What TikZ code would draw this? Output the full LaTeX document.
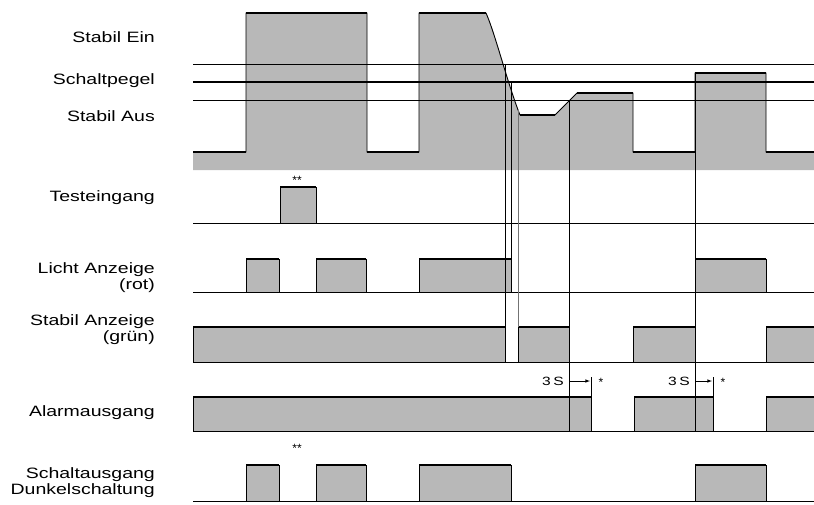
\documentclass[tikz,border=0pt]{standalone}
\usepackage{fontspec}
\setmainfont{Liberation Sans}
\usepackage{graphicx}
\newcommand{\wide}[1]{\scalebox{1.3}[1]{#1}}
\tikzset{
  lbl/.style={anchor=east, inner sep=0pt, align=right, font=\fontsize{15}{16}\selectfont},
  note/.style={inner sep=0pt, font=\fontsize{12}{12}\selectfont},
  star/.style={inner sep=0pt, font=\fontsize{12}{12}\selectfont},
  shade/.style={fill=black!28},
  edge/.style={line width=0.9pt},
  hi/.style={line width=2pt},
  fine/.style={line width=0.6pt},
}
\begin{document}
\begin{tikzpicture}[x=1pt, y=-1pt]
\useasboundingbox (0,0) rectangle (814,504);

% Beschriftung
\node[lbl] (ein) at (155,37) {\wide{Stabil Ein}};
\node[lbl] (pegel) at (155,81) {\wide{Schaltpegel}};
\node[lbl] (aus) at (155,116) {\wide{Stabil Aus}};
\node[lbl] (test) at (155,198) {\wide{Testeingang}};
\node[lbl] (licht) at (155,278) {\wide{Licht Anzeige}\\\wide{(rot)}};
\node[lbl] (stabil) at (155,330) {\wide{Stabil Anzeige}\\\wide{(grün)}};
\node[lbl] (alarm) at (155,413) {\wide{Alarmausgang}};
\node[lbl] (schalt) at (155,483) {\wide{Schaltausgang}\\\wide{Dunkelschaltung}};

% Empfangssignal
\fill[shade] (193,170) -- (193,152) -- (246,152) -- (246,13) -- (367,13)
  -- (367,152) -- (419,152) -- (419,13) -- (486,13)
  .. controls (495,33) and (508,85) .. (520,115) -- (555,115) -- (577,93)
  -- (633,93) -- (633,152) -- (695,152) -- (695,73) -- (766,73)
  -- (766,152) -- (814,152) -- (814,170) -- cycle;
\draw[edge] (193,152) -- (246,152) -- (246,13) -- (367,13) -- (367,152)
  -- (419,152) -- (419,13) -- (486,13)
  .. controls (495,33) and (508,85) .. (520,115) -- (555,115) -- (577,93)
  -- (633,93) -- (633,152) -- (695,152) -- (695,73) -- (766,73)
  -- (766,152) -- (814,152);
\foreach \a/\b/\y in {193/246/152, 246/367/13, 367/419/152, 419/486/13,
  520/555/115, 577/633/93, 633/695/152, 695/766/73, 766/814/152}
  \draw[hi] (\a,\y) -- (\b,\y);

% Schwellen
\draw[fine] (193,64) -- (814,64);
\draw[line width=2.2pt] (193,82) -- (814,82);
\draw[fine] (193,100) -- (814,100);

% Testeingang
\draw[fine] (193,223) -- (814,223);
\fill[shade] (280,187) rectangle (316,223);
\draw[edge] (280,223) -- (280,187) -- (316,187) -- (316,223);
\draw[hi] (280,187) -- (316,187);
\node[star] (t2) at (297,180) {**};

% Licht Anzeige und Schaltausgang
\draw[fine] (193,292) -- (814,292);
\draw[fine] (193,501) -- (814,501);
\foreach \a/\b in {246/279, 316/366, 419/511, 695/766} {
  \fill[shade] (\a,259) rectangle (\b,292);
  \draw[edge] (\a,292) -- (\a,259) -- (\b,259) -- (\b,292);
  \draw[hi] (\a,259) -- (\b,259);
  \fill[shade] (\a,465) rectangle (\b,501);
  \draw[edge] (\a,501) -- (\a,465) -- (\b,465) -- (\b,501);
  \draw[hi] (\a,465) -- (\b,465);
}
\node[star] (s2) at (297,448) {**};

% Stabil Anzeige
\draw[fine] (193,362) -- (814,362);
\foreach \a/\b in {193/505, 518/569, 633/695, 766/816} {
  \fill[shade] (\a,327) rectangle (\b,362);
  \draw[edge] (\a,362) -- (\a,327) -- (\b,327) -- (\b,362);
  \draw[hi] (\a,327) -- (\b,327);
}

% Alarmausgang
\draw[fine] (193,431) -- (814,431);
\foreach \a/\b in {193/591, 634/713, 766/816} {
  \fill[shade] (\a,397) rectangle (\b,431);
  \draw[edge] (\a,431) -- (\a,397) -- (\b,397) -- (\b,431);
  \draw[hi] (\a,397) -- (\b,397);
}

% Zeitmarken
\draw[fine] (505,64) -- (505,362);
\draw[fine] (511,82) -- (511,292);
\draw[fine, black!55] (518,110) -- (518,327);
\draw[fine] (569,100) -- (569,431);
\draw[fine] (695,73) -- (695,431);

% Verzoegerung 3 s
\draw[fine] (591,377) -- (591,397);
\draw[fine] (713,377) -- (713,397);
\draw[fine, -latex] (569,381) -- (590,381);
\draw[fine, -latex] (695,381) -- (712,381);
\node[note] (d1) at (553,381) {\wide{3\,S}};
\node[note] (d2) at (679,381) {\wide{3\,S}};
\node[star] (a1) at (601,382) {*};
\node[star] (a2) at (723,382) {*};
\end{tikzpicture}
\end{document}
